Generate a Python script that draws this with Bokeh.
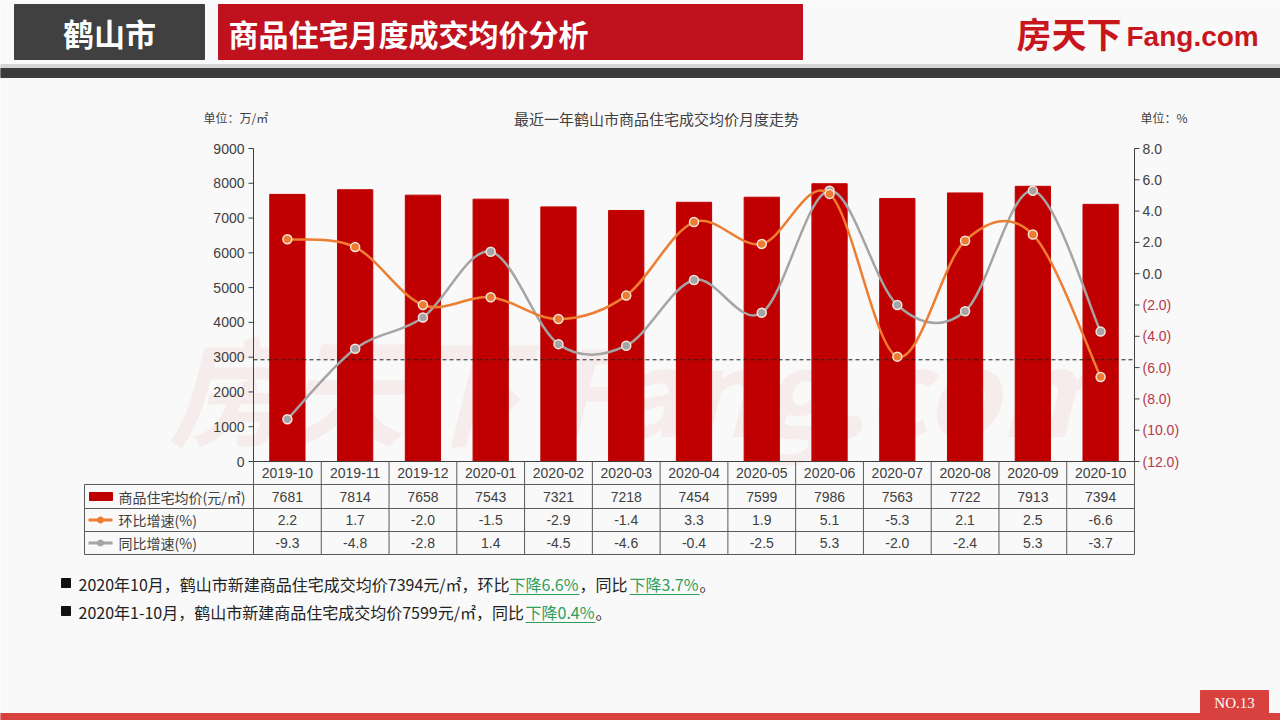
from bokeh.plotting import figure
from bokeh.models import Range1d
from bokeh.core.properties import value
from bokeh.embed import file_html
from bokeh.resources import INLINE

# ---------------- data ----------------
months = ["2019-10", "2019-11", "2019-12", "2020-01", "2020-02", "2020-03", "2020-04",
          "2020-05", "2020-06", "2020-07", "2020-08", "2020-09", "2020-10"]
price = [7681, 7814, 7658, 7543, 7321, 7218, 7454, 7599, 7986, 7563, 7722, 7913, 7394]
mom = [2.2, 1.7, -2.0, -1.5, -2.9, -1.4, 3.3, 1.9, 5.1, -5.3, 2.1, 2.5, -6.6]
yoy = [-9.3, -4.8, -2.8, 1.4, -4.5, -4.6, -0.4, -2.5, 5.3, -2.0, -2.4, 5.3, -3.7]
left_ticks = [0, 1000, 2000, 3000, 4000, 5000, 6000, 7000, 8000, 9000]
right_ticks = [8, 6, 4, 2, 0, -2, -4, -6, -8, -10, -12]
right_tick_labels = ["8.0", "6.0", "4.0", "2.0", "0.0", "(2.0)", "(4.0)", "(6.0)",
                     "(8.0)", "(10.0)", "(12.0)"]
ref_level = -5.5
series_names = ["商品住宅均价(元/㎡)", "环比增速(%)", "同比增速(%)"]

# ---------------- layout (pixels) ----------------
W, H = 1280, 720
X0, X1 = 253, 1134          # plot area left/right
YT, YB = 148, 461           # plot area top/bottom
N = len(months)
cw = (X1 - X0) / N
LMIN, LMAX = 0, 9000
RMIN, RMAX = -12, 8
kl = (LMAX - LMIN) / (YB - YT)
kr = (RMAX - RMIN) / (YB - YT)

CJK = "Noto Sans CJK SC"
LAT = "Liberation Sans"
BG = "#f9f9f9"
BAR = "#c00000"
ORANGE = "#ed7d31"
GRAY = "#a5a5a5"
TXT = "#404040"
NEG = "#b8384a"
GREEN = "#2f9e5b"

p = figure(width=W, height=H, x_range=Range1d(0, W), y_range=Range1d(H, 0),
           x_axis_type=None, y_axis_type=None, title=None,
           toolbar_location=None, output_backend="svg", min_border=0)
p.outline_line_color = None
p.background_fill_color = BG
p.border_fill_color = BG

p.extra_x_ranges = {"cat": Range1d(-X0 / cw, (W - X0) / cw)}
p.extra_y_ranges = {
    "left": Range1d(LMIN - (H - YB) * kl, LMAX + YT * kl),
    "right": Range1d(RMIN - (H - YB) * kr, RMAX + YT * kr),
}


def txt(x, y, s, size, color=TXT, font=LAT, align="left", baseline="middle",
        style="normal", **kw):
    if not isinstance(x, list):
        x, y, s = [x], [y], [s]
    p.text(x=x, y=y, text=s, text_font=value(font), text_font_size=size,
           text_color=color, text_align=align, text_baseline=baseline,
           text_font_style=style, **kw)


# ---------------- header ----------------
p.quad(left=[14], right=[204], top=[4], bottom=[59], color="#404040")
txt(109, 32, "鹤山市", "31px", "white", CJK, "center", style="bold")
p.quad(left=[218], right=[802], top=[4], bottom=[59], color="#c0111f")
txt(228, 32, "商品住宅月度成交均价分析", "30px", "white", CJK, "left", style="bold")
txt(1016, 32, "房天下", "35px", "#c8161d", CJK, "left", style="bold")
txt(1126, 36, "Fang.com", "28px", "#c8161d", LAT, "left", style="bold")
p.quad(left=[0], right=[W], top=[64], bottom=[68], color="#d4d4d4")
p.quad(left=[0], right=[W], top=[68], bottom=[77], color="#3b3b3b")

# ---------------- footer ----------------
p.quad(left=[0], right=[W], top=[713], bottom=[H], color="#d9413f")
p.quad(left=[1200], right=[1268], top=[690], bottom=[714], color="#d9413f")
txt(1234, 702, "NO.13", "15px", "white", "Liberation Serif", "center")

# ---------------- watermark ----------------
txt(640, 385, "房天下 Fang.com", "118px", "#f1dcdc", CJK, "center", style="bold italic",
    text_alpha=0.45)

# ---------------- chart titles ----------------
txt(656, 118, "最近一年鹤山市商品住宅成交均价月度走势", "15px", TXT, CJK, "center")
txt(203, 117, "单位：万/㎡", "12px", TXT, CJK, "left")
txt(1140, 117, "单位：%", "12px", TXT, CJK, "left")

# ---------------- bars ----------------
xc = [i + 0.5 for i in range(N)]
p.vbar(x=xc, top=price, bottom=0, width=0.52, color=BAR,
       x_range_name="cat", y_range_name="left")

# reference dashed line
p.segment(x0=[X0], x1=[X1], y0=[ref_level], y1=[ref_level], line_color="#222222",
          line_width=1, line_dash="4 3", y_range_name="right")


# ---------------- smooth lines ----------------
def smooth(vals, color):
    n = len(vals)
    d = {k: [] for k in ("x0", "y0", "x1", "y1", "cx0", "cy0", "cx1", "cy1")}
    for i in range(n - 1):
        a, b = max(i - 1, 0), min(i + 2, n - 1)
        p0x, p0y = xc[a], vals[a]
        p1x, p1y = xc[i], vals[i]
        p2x, p2y = xc[i + 1], vals[i + 1]
        p3x, p3y = xc[b], vals[b]
        d["x0"].append(p1x); d["y0"].append(p1y)
        d["x1"].append(p2x); d["y1"].append(p2y)
        d["cx0"].append(p1x + (p2x - p0x) / 6); d["cy0"].append(p1y + (p2y - p0y) / 6)
        d["cx1"].append(p2x - (p3x - p1x) / 6); d["cy1"].append(p2y - (p3y - p1y) / 6)
    p.bezier(line_color=color, line_width=2.5, x_range_name="cat", y_range_name="right", **d)
    p.scatter(x=xc, y=vals, size=9, fill_color=color, line_color="#f6e6df", line_width=1.5,
              x_range_name="cat", y_range_name="right")


smooth(yoy, GRAY)
smooth(mom, ORANGE)

# ---------------- axes ----------------
p.segment(x0=[X0], x1=[X0], y0=[YT], y1=[YB], line_color=TXT, line_width=1)
p.segment(x0=[X0 - 5] * len(left_ticks), x1=[X0] * len(left_ticks), y0=left_ticks,
          y1=left_ticks, line_color=TXT, y_range_name="left")
txt([X0 - 9] * len(left_ticks), left_ticks, [str(t) for t in left_ticks], "14px", TXT, LAT,
    "right", y_range_name="left")

p.segment(x0=[X1], x1=[X1], y0=[YT], y1=[YB], line_color=TXT, line_width=1)
p.segment(x0=[X1] * len(right_ticks), x1=[X1 + 5] * len(right_ticks), y0=right_ticks,
          y1=right_ticks, line_color=TXT, y_range_name="right")
rcols = [TXT if t >= 0 else NEG for t in right_ticks]
p.text(x=[X1 + 8] * len(right_ticks), y=right_ticks, text=right_tick_labels,
       text_color=rcols, text_font=value(LAT), text_font_size="14px",
       text_align="left", text_baseline="middle", y_range_name="right")

# ---------------- data table ----------------
TL = 84
rows = [YB, 484, 508, 531, 554]
LINE = "#5a5a5a"
p.segment(x0=[X0], x1=[X1], y0=[YB], y1=[YB], line_color=TXT, line_width=1.2)
p.segment(x0=[TL] * 4, x1=[X1] * 4, y0=rows[1:], y1=rows[1:], line_color=LINE)
p.segment(x0=list(range(N + 1)), x1=list(range(N + 1)), y0=[YB] * (N + 1),
          y1=[rows[-1]] * (N + 1), line_color=LINE, x_range_name="cat")
p.segment(x0=[TL], x1=[TL], y0=[rows[1]], y1=[rows[-1]], line_color=LINE)

mids = [(rows[i] + rows[i + 1]) / 2 for i in range(4)]
txt(xc, [mids[0]] * N, months, "14px", TXT, LAT, "center", x_range_name="cat")
txt(xc, [mids[1]] * N, [str(v) for v in price], "14px", TXT, LAT, "center", x_range_name="cat")
txt(xc, [mids[2]] * N, [f"{v:.1f}" for v in mom], "14px", TXT, LAT, "center", x_range_name="cat")
txt(xc, [mids[3]] * N, [f"{v:.1f}" for v in yoy], "14px", TXT, LAT, "center", x_range_name="cat")

# legend cells
p.quad(left=[89], right=[112], top=[mids[1] - 4], bottom=[mids[1] + 4], color=BAR)
for m, c in ((mids[2], ORANGE), (mids[3], GRAY)):
    p.segment(x0=[88], x1=[112], y0=[m], y1=[m], line_color=c, line_width=3)
    p.scatter(x=[100], y=[m], size=6, fill_color=c, line_color=c)
txt([118] * 3, mids[1:], series_names, "14px", TXT, CJK, "left")

# ---------------- notes ----------------
NOTE = "#222222"
NF = "16px"
for y in (583, 611):
    p.quad(left=[61], right=[70], top=[y - 5], bottom=[y + 4], color="#111111")
txt(78, 583, "2020年10月，鹤山市新建商品住宅成交均价7394元/㎡，环比", NF, NOTE, CJK)
txt(509, 583, "下降6.6%", NF, GREEN, CJK)
txt(579, 583, "，同比", NF, NOTE, CJK)
txt(629, 583, "下降3.7%", NF, GREEN, CJK)
txt(699, 583, "。", NF, NOTE, CJK)
txt(78, 611, "2020年1-10月，鹤山市新建商品住宅成交均价7599元/㎡，同比", NF, NOTE, CJK)
txt(525, 611, "下降0.4%", NF, GREEN, CJK)
txt(595, 611, "。", NF, NOTE, CJK)
p.segment(x0=[509, 629, 525], x1=[579, 699, 595], y0=[594, 594, 622], y1=[594, 594, 622],
          line_color=GREEN, line_width=1)

open("out.html", "w").write(file_html(p, INLINE))
